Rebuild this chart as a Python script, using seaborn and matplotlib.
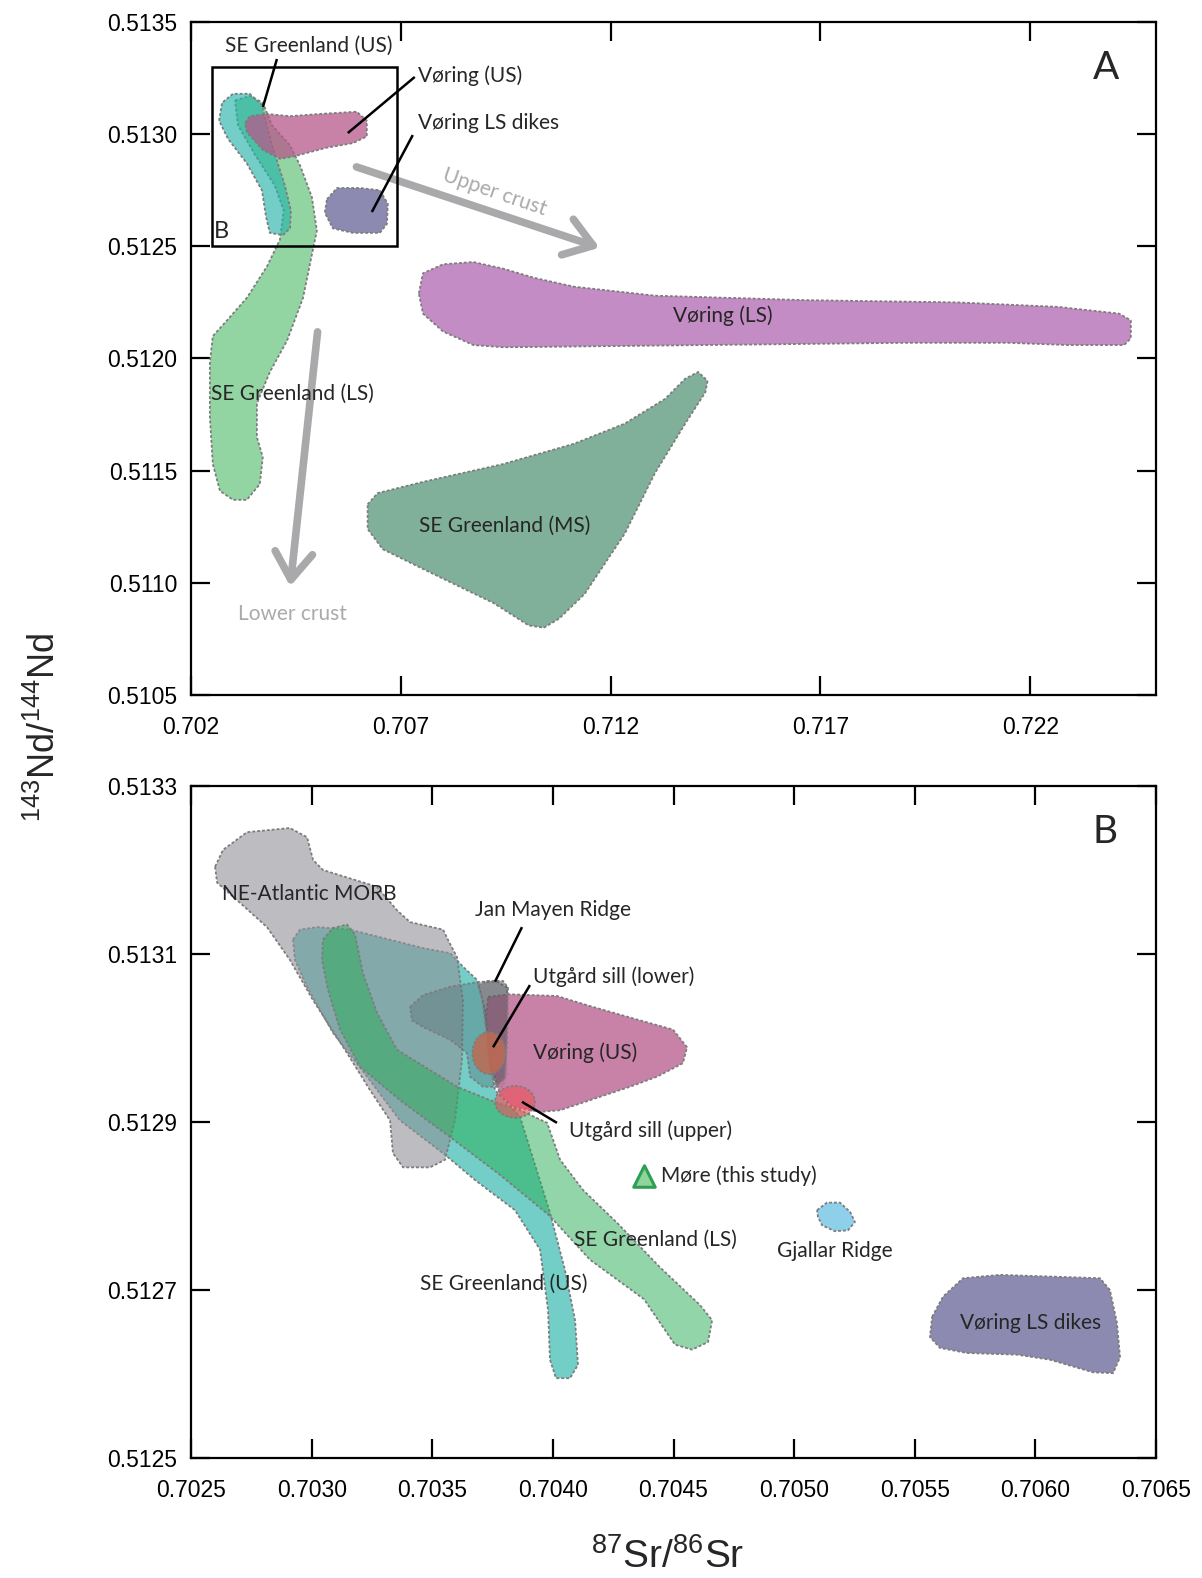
import matplotlib
matplotlib.use("Agg")
import numpy as np
import pandas as pd
import matplotlib.pyplot as plt
import seaborn as sns
from matplotlib.patches import Polygon, Ellipse, FancyArrowPatch, Rectangle
from matplotlib.colors import to_rgb

# ======================= DATA : panel A =======================
A_xticks = [0.702, 0.707, 0.712, 0.717, 0.722]
A_yticks = [0.5105, 0.5110, 0.5115, 0.5120, 0.5125, 0.5130, 0.5135]
A_xlim = (0.702, 0.725)
A_ylim = (0.5105, 0.5135)

A_voring_ls_x = [0.70743, 0.70753, 0.70801, 0.70873, 0.70945, 0.71017, 0.71113, 0.71306, 0.71666, 0.72027,
                 0.72267, 0.72412, 0.72440, 0.72440, 0.72424, 0.72291, 0.72147, 0.71907, 0.71426, 0.70945,
                 0.70873, 0.70801, 0.70753]
A_voring_ls_y = [0.51229, 0.51238, 0.51242, 0.51243, 0.51240, 0.51236, 0.51232, 0.51228, 0.51226, 0.51225,
                 0.51223, 0.51220, 0.51217, 0.51209, 0.51206, 0.51206, 0.51207, 0.51207, 0.51206, 0.51205,
                 0.51206, 0.51212, 0.51220]

A_segl_ms_x = [0.70621, 0.70645, 0.70753, 0.70945, 0.71113, 0.71234, 0.71330, 0.71378, 0.71409, 0.71431,
               0.71426, 0.71378, 0.71306, 0.71234, 0.71138, 0.71077, 0.71041, 0.71005, 0.70921, 0.70777,
               0.70657, 0.70621]
A_segl_ms_y = [0.51135, 0.51140, 0.51145, 0.51153, 0.51162, 0.51171, 0.51182, 0.51191, 0.51194, 0.51190,
               0.51185, 0.51171, 0.51149, 0.51122, 0.51095, 0.51084, 0.51080, 0.51081, 0.51091, 0.51104,
               0.51115, 0.51124]

A_segl_ls_x = [0.70305, 0.70340, 0.70371, 0.70393, 0.70436, 0.70460, 0.70488, 0.70500, 0.70490, 0.70467,
               0.70429, 0.70388, 0.70357, 0.70357, 0.70371, 0.70364, 0.70333, 0.70300, 0.70269, 0.70252,
               0.70245, 0.70245, 0.70252, 0.70286, 0.70333, 0.70381, 0.70412, 0.70421, 0.70400, 0.70352,
               0.70312]
A_segl_ls_y = [0.51315, 0.51317, 0.51314, 0.51304, 0.51295, 0.51286, 0.51272, 0.51257, 0.51248, 0.51227,
               0.51208, 0.51194, 0.51180, 0.51165, 0.51156, 0.51144, 0.51137, 0.51137, 0.51141, 0.51153,
               0.51174, 0.51198, 0.51210, 0.51217, 0.51227, 0.51241, 0.51253, 0.51266, 0.51277, 0.51291,
               0.51304]

A_segl_us_x = [0.70267, 0.70274, 0.70300, 0.70340, 0.70369, 0.70383, 0.70400, 0.70424, 0.70438, 0.70436,
               0.70419, 0.70388, 0.70379, 0.70369, 0.70333, 0.70288]
A_segl_us_y = [0.51306, 0.51314, 0.51318, 0.51318, 0.51313, 0.51302, 0.51291, 0.51277, 0.51266, 0.51258,
               0.51255, 0.51256, 0.51263, 0.51275, 0.51287, 0.51298]

A_voring_us_x = [0.70329, 0.70340, 0.70381, 0.70436, 0.70507, 0.70595, 0.70619, 0.70619, 0.70586, 0.70524,
                 0.70443, 0.70412, 0.70371, 0.70333]
A_voring_us_y = [0.51305, 0.51308, 0.51309, 0.51308, 0.51309, 0.51310, 0.51306, 0.51299, 0.51296, 0.51294,
                 0.51290, 0.51289, 0.51293, 0.51301]

A_dikes_x = [0.70524, 0.70548, 0.70602, 0.70650, 0.70669, 0.70667, 0.70650, 0.70586, 0.70538, 0.70519]
A_dikes_y = [0.51271, 0.51276, 0.51276, 0.51275, 0.51269, 0.51260, 0.51256, 0.51256, 0.51258, 0.51265]

A_box_x = [0.7025, 0.70691]
A_box_y = [0.51250, 0.51330]

A_upper_arrow_x = [0.705881, 0.711800]
A_upper_arrow_y = [0.512858, 0.512490]
A_lower_arrow_x = [0.705024, 0.704357]
A_lower_arrow_y = [0.512131, 0.510972]

# ======================= DATA : panel B =======================
B_xticks = [0.7025, 0.7030, 0.7035, 0.7040, 0.7045, 0.7050, 0.7055, 0.7060, 0.7065]
B_yticks = [0.5125, 0.5127, 0.5129, 0.5131, 0.5133]
B_xlim = (0.7025, 0.7065)
B_ylim = (0.5125, 0.5133)

B_morb_x = [0.702600, 0.702633, 0.702732, 0.702910, 0.702981, 0.703006, 0.703047, 0.703271, 0.703354, 0.703408,
            0.703545, 0.703565, 0.703603, 0.703627, 0.703623, 0.703594, 0.703553, 0.703491, 0.703379, 0.703337,
            0.703325, 0.703242, 0.703147, 0.703006, 0.702910, 0.702815, 0.702703, 0.702608]
B_morb_y = [0.513204, 0.513224, 0.513245, 0.513250, 0.513239, 0.513212, 0.513200, 0.513180, 0.513152, 0.513138,
            0.513129, 0.513117, 0.513096, 0.513045, 0.512974, 0.512902, 0.512855, 0.512846, 0.512846, 0.512863,
            0.512902, 0.512938, 0.512982, 0.513045, 0.513093, 0.513132, 0.513161, 0.513185]

B_segl_us_x = [0.702923, 0.702952, 0.703022, 0.703159, 0.703325, 0.703462, 0.703574, 0.703627, 0.703686, 0.703719,
               0.703739, 0.703760, 0.703864, 0.703988, 0.704050, 0.704092, 0.704104, 0.704071, 0.704013, 0.703988,
               0.703980, 0.703947, 0.703843, 0.703677, 0.703553, 0.703366, 0.703230, 0.703089, 0.702981, 0.702931]
B_segl_us_y = [0.513117, 0.513129, 0.513132, 0.513129, 0.513117, 0.513107, 0.513101, 0.513085, 0.513069, 0.513033,
               0.512974, 0.512938, 0.512906, 0.512792, 0.512724, 0.512664, 0.512611, 0.512595, 0.512595, 0.512617,
               0.512676, 0.512748, 0.512795, 0.512831, 0.512861, 0.512902, 0.512954, 0.513006, 0.513061, 0.513093]

B_segl_ls_x = [0.703047, 0.703089, 0.703147, 0.703180, 0.703213, 0.703271, 0.703354, 0.703603, 0.703739, 0.703864,
               0.703976, 0.704030, 0.704125, 0.704266, 0.704444, 0.704610, 0.704660, 0.704643, 0.704577, 0.704506,
               0.704378, 0.704154, 0.703984, 0.703781, 0.703574, 0.703366, 0.703200, 0.703118, 0.703068, 0.703043]
B_segl_ls_y = [0.513117, 0.513131, 0.513135, 0.513123, 0.513077, 0.513030, 0.512986, 0.512942, 0.512926, 0.512914,
               0.512899, 0.512855, 0.512819, 0.512780, 0.512727, 0.512682, 0.512664, 0.512638, 0.512629, 0.512635,
               0.512689, 0.512736, 0.512789, 0.512837, 0.512882, 0.512926, 0.512966, 0.513010, 0.513057, 0.513093]

B_slate_x = [0.703408, 0.703462, 0.703574, 0.703698, 0.703769, 0.703810, 0.703810, 0.703801, 0.703810, 0.703793,
             0.703710, 0.703657, 0.703644, 0.703574, 0.703462, 0.703416]
B_slate_y = [0.513037, 0.513051, 0.513061, 0.513067, 0.513067, 0.513060, 0.513037, 0.513006, 0.512958, 0.512942,
             0.512942, 0.512954, 0.512982, 0.512998, 0.513013, 0.513021]

B_janmayen_x = [0.703690, 0.703727, 0.703793, 0.703814, 0.703810, 0.703801, 0.703768, 0.703739, 0.703723, 0.703706]
B_janmayen_y = [0.513063, 0.513068, 0.513068, 0.513060, 0.512998, 0.512952, 0.512943, 0.512962, 0.513010, 0.513048]

B_voring_us_x = [0.703731, 0.703822, 0.704017, 0.704154, 0.704361, 0.704498, 0.704556, 0.704539, 0.704432, 0.704320,
                 0.704195, 0.704030, 0.703947, 0.703835, 0.703781, 0.703739, 0.703723]
B_voring_us_y = [0.513049, 0.513052, 0.513050, 0.513038, 0.513021, 0.513010, 0.512989, 0.512970, 0.512954, 0.512942,
                 0.512930, 0.512914, 0.512912, 0.512918, 0.512932, 0.512974, 0.513021]

B_dikes_x = [0.705572, 0.705617, 0.705700, 0.705853, 0.706061, 0.706268, 0.706309, 0.706338, 0.706351, 0.706322,
             0.706239, 0.706061, 0.705924, 0.705717, 0.705605, 0.705563]
B_dikes_y = [0.512668, 0.512692, 0.512714, 0.512718, 0.512716, 0.512714, 0.512700, 0.512661, 0.512620, 0.512601,
             0.512602, 0.512617, 0.512623, 0.512625, 0.512631, 0.512644]

B_gjallar_x = [0.705095, 0.705136, 0.705190, 0.705232, 0.705252, 0.705223, 0.705169, 0.705116, 0.705099]
B_gjallar_y = [0.512795, 0.512804, 0.512804, 0.512793, 0.512781, 0.512771, 0.512770, 0.512777, 0.512787]

# Utgard sill fields: centre x, centre y, half-width, half-height
B_utgard_lower = [0.703735, 0.512982, 0.0000684, 0.0000250]
B_utgard_upper = [0.703843, 0.512924, 0.0000829, 0.0000190]

# More (this study)
B_more_sr = [0.704378]
B_more_nd = [0.512836]

# ======================= STYLE =======================
sns.set_theme(style="ticks")
plt.rcParams["font.family"] = ["Liberation Sans", "DejaVu Sans"]
plt.rcParams["mathtext.fontset"] = "custom"
plt.rcParams["mathtext.rm"] = "Liberation Sans"
plt.rcParams["mathtext.it"] = "Liberation Sans"
LAB = ["Lato", "DejaVu Sans"]
LFS = 15
EDGE = "#7d7d7d"
DASH = (0, (1.6, 1.1))


def tint(hex_on_white, alpha):
    """colour that, drawn with `alpha` over white, looks like hex_on_white"""
    c = np.array(to_rgb(hex_on_white))
    base = (c - (1 - alpha)) / alpha
    return tuple(np.clip(base, 0, 1)) + (alpha,)


def region(ax, xs, ys, look, alpha=1.0, z=2):
    poly = Polygon(np.column_stack([xs, ys]), closed=True,
                   facecolor=tint(look, alpha), edgecolor=EDGE,
                   linestyle=DASH, linewidth=1.3, joinstyle="round", zorder=z)
    ax.add_patch(poly)


def blob(ax, spec, look, alpha, z):
    e = Ellipse((spec[0], spec[1]), 2 * spec[2], 2 * spec[3],
                facecolor=tint(look, alpha), edgecolor=EDGE, linestyle=DASH,
                linewidth=1.2, zorder=z)
    ax.add_patch(e)


def leader(ax, xs, ys):
    ax.plot(xs, ys, color="black", lw=1.8, zorder=10, solid_capstyle="butt")


def style_axes(ax, xt, yt, xl, yl, xfmt, yfmt):
    ax.set_xlim(*xl)
    ax.set_ylim(*yl)
    ax.set_xticks(xt)
    ax.set_yticks(yt)
    ax.set_xticklabels([xfmt.format(v) for v in xt])
    ax.set_yticklabels([yfmt.format(v) for v in yt])
    ax.tick_params(direction="in", top=True, right=True, length=14, width=1.6,
                   labelsize=16.5, colors="black")
    ax.tick_params(axis="x", pad=15)
    ax.tick_params(axis="y", pad=10)
    for s in ax.spines.values():
        s.set_visible(True)
        s.set_linewidth(1.6)
        s.set_color("black")
    ax.set_facecolor("white")


W, H = 1202, 1578
fig = plt.figure(figsize=(W / 100, H / 100), dpi=100)
fig.patch.set_facecolor("white")
axA = fig.add_axes([191 / W, 1 - 695 / H, 965 / W, 673 / H])
axB = fig.add_axes([191 / W, 1 - 1458 / H, 965 / W, 672 / H])

# ---------------- panel A ----------------
style_axes(axA, A_xticks, A_yticks, A_xlim, A_ylim, "{:.3f}", "{:.4f}")
region(axA, A_voring_ls_x, A_voring_ls_y, "#c48cc4", 1.0, 2)
region(axA, A_segl_ms_x, A_segl_ms_y, "#80b09a", 1.0, 2)
region(axA, A_segl_ls_x, A_segl_ls_y, "#93d6a2", 0.55, 3)
region(axA, A_segl_us_x, A_segl_us_y, "#72cec8", 0.65, 4)
region(axA, A_voring_us_x, A_voring_us_y, "#c882a8", 0.75, 5)
region(axA, A_dikes_x, A_dikes_y, "#8c8ab0", 1.0, 5)
axA.add_patch(Rectangle((A_box_x[0], A_box_y[0]), A_box_x[1] - A_box_x[0], A_box_y[1] - A_box_y[0],
                        fill=False, edgecolor="black", lw=1.8, zorder=8))

for xs, ys in [(A_upper_arrow_x, A_upper_arrow_y), (A_lower_arrow_x, A_lower_arrow_y)]:
    arr = FancyArrowPatch((xs[0], ys[0]), (xs[1], ys[1]),
                          arrowstyle="->,head_length=0.65,head_width=0.45",
                          mutation_scale=30, lw=5.5, color="#a9a9ab", zorder=6)
    axA.add_patch(arr)

axA.text(0.709238, 0.512742, "Upper crust", rotation=-19, color="#aaaaaa", fontsize=LFS,
         family=LAB, ha="center", va="center", zorder=7)
axA.text(0.704429, 0.510860, "Lower crust", color="#aaaaaa", fontsize=LFS,
         family=LAB, ha="center", va="center", zorder=7)

axA.text(0.704810, 0.513393, "SE Greenland (US)", fontsize=LFS, family=LAB, ha="center", va="center", zorder=9)
leader(axA, [0.704048, 0.703714], [0.513335, 0.513121])
axA.text(0.707405, 0.513259, "Vøring (US)", fontsize=LFS, family=LAB, ha="left", va="center", zorder=9)
leader(axA, [0.707333, 0.705738], [0.513255, 0.513005])
axA.text(0.707405, 0.513050, "Vøring LS dikes", fontsize=LFS, family=LAB, ha="left", va="center", zorder=9)
leader(axA, [0.707286, 0.706310], [0.512996, 0.512653])
axA.text(0.714667, 0.512189, "Vøring (LS)", fontsize=LFS, family=LAB, ha="center", va="center", zorder=9)
axA.text(0.704429, 0.511842, "SE Greenland (LS)", fontsize=LFS, family=LAB, ha="center", va="center", zorder=9)
axA.text(0.709476, 0.511253, "SE Greenland (MS)", fontsize=LFS, family=LAB, ha="center", va="center", zorder=9)
axA.text(0.702714, 0.512568, "B", fontsize=17, family=LAB, ha="center", va="center", zorder=9)
axA.text(0.723810, 0.513295, "A", fontsize=28, family=LAB, ha="center", va="center", zorder=9)

# ---------------- panel B ----------------
style_axes(axB, B_xticks, B_yticks, B_xlim, B_ylim, "{:.4f}", "{:.4f}")
region(axB, B_segl_us_x, B_segl_us_y, "#72cec8", 0.65, 2)
region(axB, B_morb_x, B_morb_y, "#bdbdc1", 0.6, 3)
region(axB, B_segl_ls_x, B_segl_ls_y, "#93d6aa", 0.5, 4)
region(axB, B_slate_x, B_slate_y, "#bcc6ca", 0.4, 5)
region(axB, B_voring_us_x, B_voring_us_y, "#c882a8", 0.9, 6)
region(axB, B_janmayen_x, B_janmayen_y, "#a8a6aa", 0.5, 7)
blob(axB, B_utgard_lower, "#c8806a", 0.85, 8)
blob(axB, B_utgard_upper, "#f6969c", 0.6, 8)
region(axB, B_gjallar_x, B_gjallar_y, "#8ecfea", 1.0, 6)
region(axB, B_dikes_x, B_dikes_y, "#8c8ab0", 1.0, 6)

more = pd.DataFrame({"sr": B_more_sr, "nd": B_more_nd})
sns.scatterplot(data=more, x="sr", y="nd", ax=axB, marker="^", s=240,
                color="#8fd49a", edgecolor="#2e9e55", linewidth=2.2, zorder=11, legend=False)
axB.set_xlabel("")
axB.set_ylabel("")

axB.text(0.702989, 0.513171, "NE-Atlantic MORB", fontsize=LFS, family=LAB, ha="center", va="center", zorder=12)
axB.text(0.704001, 0.513152, "Jan Mayen Ridge", fontsize=LFS, family=LAB, ha="center", va="center", zorder=12)
leader(axB, [0.703872, 0.703760], [0.513132, 0.513067])
axB.text(0.703918, 0.513073, "Utgård sill (lower)", fontsize=LFS, family=LAB, ha="left", va="center", zorder=12)
leader(axB, [0.703905, 0.703752], [0.513063, 0.512989])
axB.text(0.704133, 0.512983, "Vøring (US)", fontsize=LFS, family=LAB, ha="center", va="center", zorder=12)
axB.text(0.704067, 0.512890, "Utgård sill (upper)", fontsize=LFS, family=LAB, ha="left", va="center", zorder=12)
leader(axB, [0.703872, 0.704017], [0.512924, 0.512899])
axB.text(0.704448, 0.512836, "Møre (this study)", fontsize=LFS, family=LAB, ha="left", va="center", zorder=12)
axB.text(0.704427, 0.512760, "SE Greenland (LS)", fontsize=LFS, family=LAB, ha="center", va="center", zorder=12)
axB.text(0.705169, 0.512746, "Gjallar Ridge", fontsize=LFS, family=LAB, ha="center", va="center", zorder=12)
axB.text(0.703797, 0.512707, "SE Greenland (US)", fontsize=LFS, family=LAB, ha="center", va="center", zorder=12)
axB.text(0.705978, 0.512661, "Vøring LS dikes", fontsize=LFS, family=LAB, ha="center", va="center", zorder=12)
axB.text(0.706289, 0.513245, "B", fontsize=28, family=LAB, ha="center", va="center", zorder=12)

# ---------------- axis titles ----------------
fig.text(45 / W, 1 - 727 / H, r"$^{143}$Nd/$^{144}$Nd", rotation=90, fontsize=26,
         ha="center", va="center")
fig.text(668 / W, 1 - 1557 / H, r"$^{87}$Sr/$^{86}$Sr", fontsize=28, ha="center", va="center")

fig.savefig("out.png", dpi=100, facecolor="white")
